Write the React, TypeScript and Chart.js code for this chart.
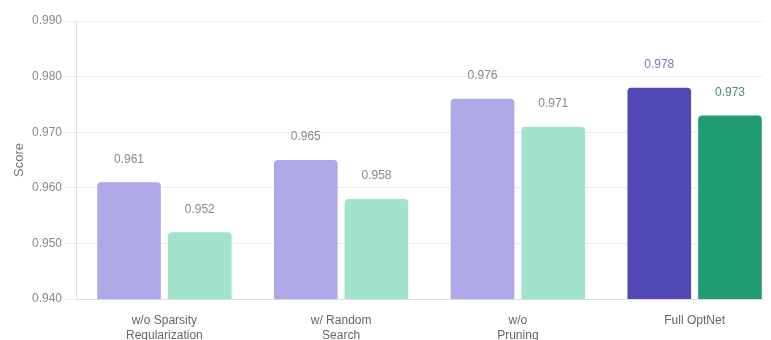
import React, { useEffect, useRef } from "react";
import { Chart, registerables } from "chart.js";

Chart.register(...registerables);

const categories: (string | string[])[] = [
  ["w/o Sparsity", "Regularization"],
  ["w/ Random", "Search"],
  ["w/o", "Pruning"],
  "Full OptNet",
];
const seriesA = [0.961, 0.965, 0.976, 0.978];
const seriesB = [0.952, 0.958, 0.971, 0.973];
const yTicks = [0.94, 0.95, 0.96, 0.97, 0.98, 0.99];

const colorsA = ["#aea8e9", "#aea8e9", "#aea8e9", "#5249b6"];
const colorsB = ["#a1e3cb", "#a1e3cb", "#a1e3cb", "#1f9c74"];
const labelColorsA = ["#888888", "#888888", "#888888", "#7b73c6"];
const labelColorsB = ["#888888", "#888888", "#888888", "#3e8f72"];

const FONT = "'Liberation Sans', Arial, sans-serif";

// Draws each bar's value above it.
const valueLabels = {
  id: "valueLabels",
  afterDatasetsDraw(chart: any) {
    const ctx = chart.ctx;
    const palettes = [labelColorsA, labelColorsB];
    ctx.save();
    ctx.font = `12px ${FONT}`;
    ctx.textAlign = "center";
    ctx.textBaseline = "middle";
    chart.data.datasets.forEach((ds: any, di: number) => {
      const meta = chart.getDatasetMeta(di);
      meta.data.forEach((bar: any, i: number) => {
        ctx.fillStyle = palettes[di][i];
        ctx.fillText(Number(ds.data[i]).toFixed(3), bar.x, bar.y - 23);
      });
    });
    ctx.restore();
  },
};

export default function App() {
  const ref = useRef<HTMLCanvasElement>(null);

  useEffect(() => {
    if (!ref.current) return;
    const chart = new Chart(ref.current, {
      type: "bar",
      data: {
        labels: categories,
        datasets: [
          {
            label: "A",
            data: seriesA,
            backgroundColor: colorsA,
            borderRadius: 4,
            borderSkipped: "bottom",
          },
          {
            label: "B",
            data: seriesB,
            backgroundColor: colorsB,
            borderRadius: 4,
            borderSkipped: "bottom",
          },
        ],
      },
      options: {
        responsive: false,
        animation: false,
        layout: { padding: { top: 13, left: 0, right: 0, bottom: 0 } },
        plugins: {
          legend: { display: false },
          tooltip: { enabled: false },
        },
        scales: {
          x: {
            grid: { display: false },
            border: { display: true, color: "#dddddd" },
            ticks: {
              color: "#666666",
              font: { size: 12, family: FONT, lineHeight: 1.25 },
              padding: 6,
              maxRotation: 0,
            },
            afterFit: (scale: any) => {
              scale.height = 41;
            },
          },
          y: {
            min: 0.94,
            max: 0.99,
            afterBuildTicks: (scale: any) => {
              scale.ticks = yTicks.map((v) => ({ value: v }));
            },
            grid: { color: "#eeeeee", tickLength: 10 },
            border: { display: true, color: "#dddddd" },
            ticks: {
              color: "#888888",
              padding: 4,
              font: { size: 12, family: FONT },
              callback: (v: any) => Number(v).toFixed(3),
            },
            title: {
              display: true,
              text: "Score",
              color: "#777777",
              font: { size: 13, family: FONT },
            },
            afterFit: (scale: any) => {
              scale.width = 68;
            },
          },
        },
      },
      plugins: [valueLabels],
    });
    return () => chart.destroy();
  }, []);

  return (
    <div style={{ width: 763, height: 332, overflow: "hidden" }}>
      <canvas ref={ref} width={775} height={332} style={{ display: "block" }} />
    </div>
  );
}
